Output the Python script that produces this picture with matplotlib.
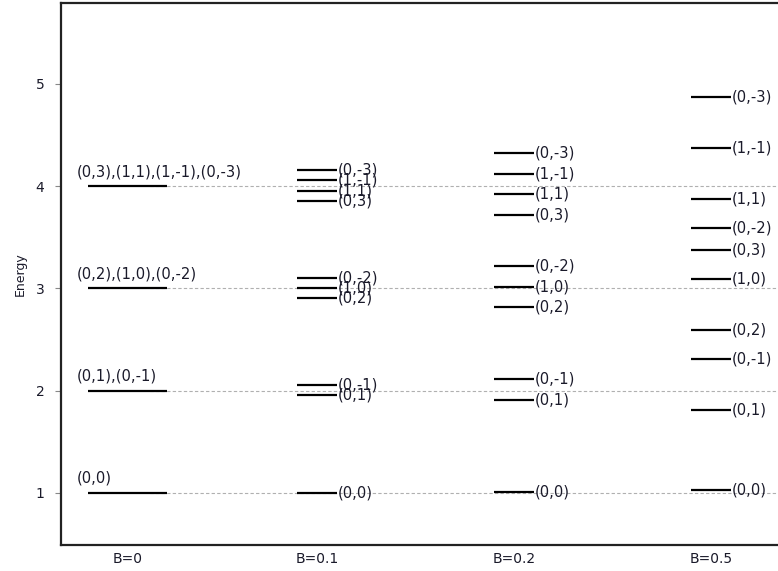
import matplotlib
matplotlib.use('Agg')
import matplotlib.pyplot as plt

plt.rcParams['font.family'] = 'DejaVu Sans'

## Data
fields = ['B=0', 'B=0.1', 'B=0.2', 'B=0.5']

# level energies, order: (0,0),(0,1),(0,-1),(0,2),(1,0),(0,-2),(0,3),(1,1),(1,-1),(0,-3)
states = ['(0,0)', '(0,1)', '(0,-1)', '(0,2)', '(1,0)', '(0,-2)', '(0,3)', '(1,1)', '(1,-1)', '(0,-3)']
e_b01 = [1.001, 1.953, 2.053, 2.904, 3.004, 3.104, 3.855, 3.955, 4.055, 4.155]
e_b02 = [1.005, 1.910, 2.110, 2.815, 3.015, 3.215, 3.720, 3.920, 4.120, 4.320]
e_b05 = [1.031, 1.812, 2.312, 2.592, 3.092, 3.592, 3.373, 3.873, 4.373, 4.873]

# B=0: degenerate shells
e_b0 = [1, 2, 3, 4]
b0_labels = ['(0,0)', '(0,1),(0,-1)', '(0,2),(1,0),(0,-2)', '(0,3),(1,1),(1,-1),(0,-3)']

# layout
xc = [0.036, 1, 2, 3]
half_w0 = 0.20
half_w = 0.10
text_col = '#1a1a2a'

fig = plt.figure(figsize=(7.78, 5.71), dpi=100)
ax = fig.add_axes([61 / 778, 26 / 571, 1 - 61 / 778, 542 / 571])

# dashed reference lines at the B=0 levels
for e in e_b0:
    ax.plot([0.152, 3.6], [e, e], color='#b0b0b0', lw=0.8, ls=(0, (3, 2)), zorder=1)

# B=0
for e, lab in zip(e_b0, b0_labels):
    ax.plot([xc[0] - half_w0, xc[0] + half_w0], [e, e], color='black', lw=1.6,
            solid_capstyle='butt', zorder=2)
    ax.annotate(lab, (-0.218, e), xytext=(0, 5), textcoords='offset points',
                ha='left', va='bottom', fontsize=10.6, color=text_col)

# B>0
for xi, energies in zip(xc[1:], [e_b01, e_b02, e_b05]):
    for e, lab in zip(energies, states):
        ax.plot([xi - half_w, xi + half_w], [e, e], color='black', lw=1.6,
                solid_capstyle='butt', zorder=2)
        ax.annotate(lab, (xi + half_w, e), xytext=(0.5, 0), textcoords='offset points',
                    ha='left', va='center', fontsize=10.6, color=text_col)

ax.set_xlim(-0.30, 3.34)
ax.set_ylim(0.491, 5.79)
ax.set_xticks(xc)
ax.set_xticklabels(fields)
ax.set_yticks([1, 2, 3, 4, 5])
ax.tick_params(axis='x', length=0, pad=5, labelsize=10, labelcolor=text_col)
ax.tick_params(axis='y', length=4, width=0.8, color='#888888', direction='out',
               pad=8, labelsize=10, labelcolor=text_col)
ax.set_ylabel('Energy', fontsize=9, color=text_col, labelpad=6)

for s in ['left', 'top', 'bottom']:
    ax.spines[s].set_linewidth(1.6)
    ax.spines[s].set_color('#222222')
ax.spines['right'].set_visible(False)

plt.savefig('out.png', dpi=100)
